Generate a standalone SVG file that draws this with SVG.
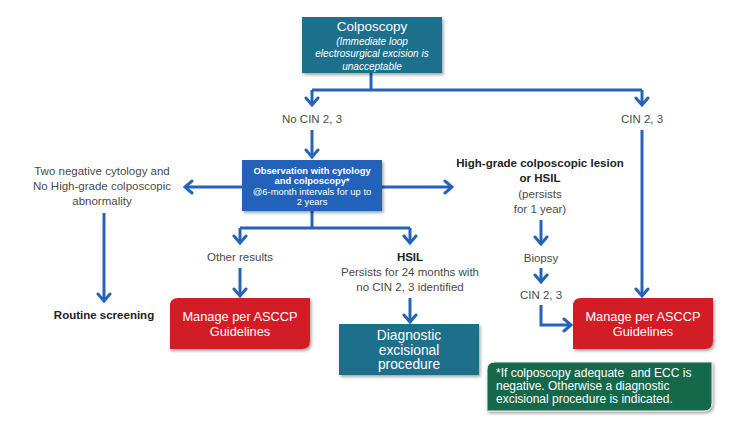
<svg xmlns="http://www.w3.org/2000/svg" width="743" height="425" viewBox="0 0 743 425">
<defs>
<marker id="arr" viewBox="-10 -8 12 16" markerWidth="12" markerHeight="16" refX="0" refY="0" orient="auto" markerUnits="userSpaceOnUse">
<path d="M-7,-6 L0,0 L-7,6" fill="none" stroke="#2563B8" stroke-width="3" stroke-linecap="round"/>
</marker>
<filter id="sh" x="-10%" y="-10%" width="125%" height="130%">
<feDropShadow dx="1.5" dy="2" stdDeviation="1.5" flood-color="#000" flood-opacity="0.35"/>
</filter>
</defs>
<style>
text{font-family:"Liberation Sans",Arial,sans-serif;}
.c{stroke:#2563B8;stroke-width:3;fill:none;}
.lbl{fill:#4a4a4a;font-size:11.5px;text-anchor:middle;}
.b{font-weight:bold;fill:#222;}
.w{fill:#fff;text-anchor:middle;}
</style>
<rect width="743" height="425" fill="#fff"/>
<g id="connectors">
<path class="c" d="M371,73 V90"/>
<path class="c" d="M312,90 H642"/>
<path class="c" d="M312,90 V105" marker-end="url(#arr)"/>
<path class="c" d="M642,90 V105" marker-end="url(#arr)"/>
<path class="c" d="M312,130 V157" marker-end="url(#arr)"/>
<path class="c" d="M242,187 H185" marker-end="url(#arr)"/>
<path class="c" d="M382,187 H452" marker-end="url(#arr)"/>
<path class="c" d="M104,213 V301" marker-end="url(#arr)"/>
<path class="c" d="M312,211 V228"/>
<path class="c" d="M240,228 H410"/>
<path class="c" d="M240,228 V243" marker-end="url(#arr)"/>
<path class="c" d="M410,228 V243" marker-end="url(#arr)"/>
<path class="c" d="M240,268 V296" marker-end="url(#arr)"/>
<path class="c" d="M410,298 V322" marker-end="url(#arr)"/>
<path class="c" d="M642,130 V296" marker-end="url(#arr)"/>
<path class="c" d="M541,220 V244" marker-end="url(#arr)"/>
<path class="c" d="M541,268 V282" marker-end="url(#arr)"/>
<path class="c" d="M541,305 V325 H571" marker-end="url(#arr)"/>
</g>
<g id="colposcopy">
<rect x="302" y="17" width="140" height="56" fill="#1D6F8B" filter="url(#sh)"/>
<text class="w" x="372" y="31" font-size="13.5">Colposcopy</text>
<text class="w" x="372" y="45" font-size="10" font-style="italic">(Immediate loop</text>
<text class="w" x="372" y="57" font-size="10" font-style="italic">electrosurgical excision is</text>
<text class="w" x="372" y="70" font-size="10" font-style="italic">unacceptable</text>
</g>
<g id="no-cin">
<text class="lbl" x="312" y="123">No CIN 2, 3</text>
</g>
<g id="cin-right">
<text class="lbl" x="642" y="123">CIN 2, 3</text>
</g>
<g id="observation">
<rect x="242" y="160" width="140" height="51" fill="#2462B8" filter="url(#sh)"/>
<text class="w" x="312" y="174" font-size="9.4" font-weight="bold">Observation with cytology</text>
<text class="w" x="312" y="184" font-size="9.4" font-weight="bold">and colposcopy*</text>
<text class="w" x="312" y="194.5" font-size="9.4">@6-month intervals for up to</text>
<text class="w" x="312" y="204.5" font-size="9.4">2 years</text>
</g>
<g id="two-negative">
<text class="lbl" x="102" y="175">Two negative cytology and</text>
<text class="lbl" x="102" y="190">No High-grade colposcopic</text>
<text class="lbl" x="102" y="205">abnormality</text>
</g>
<g id="high-grade">
<text class="lbl b" x="540" y="167" font-size="10.8">High-grade colposcopic lesion</text>
<text class="lbl b" x="540" y="182" font-size="10.8">or HSIL</text>
<text class="lbl" x="540" y="198">(persists</text>
<text class="lbl" x="540" y="213">for 1 year)</text>
</g>
<g id="routine">
<text class="lbl b" x="104" y="319" font-size="10.5">Routine screening</text>
</g>
<g id="other-results">
<text class="lbl" x="240" y="261">Other results</text>
</g>
<g id="hsil">
<text class="lbl b" x="410" y="261" font-size="10.5">HSIL</text>
<text class="lbl" x="410" y="276" font-size="11">Persists for 24 months with</text>
<text class="lbl" x="410" y="291" font-size="11">no CIN 2, 3 identified</text>
</g>
<g id="biopsy">
<text class="lbl" x="541" y="262">Biopsy</text>
</g>
<g id="cin-mid">
<text class="lbl" x="541" y="299">CIN 2, 3</text>
</g>
<g id="manage-left">
<path d="M178,298 H310 V341 Q310,349 302,349 H170 V306 Q170,298 178,298 Z" fill="#D21F27" filter="url(#sh)"/>
<text class="w" x="240" y="321" font-size="12.8">Manage per ASCCP</text>
<text class="w" x="240" y="336" font-size="12.8">Guidelines</text>
</g>
<g id="manage-right">
<path d="M581,298 H713 V341 Q713,349 705,349 H573 V306 Q573,298 581,298 Z" fill="#D21F27" filter="url(#sh)"/>
<text class="w" x="643" y="321" font-size="12.8">Manage per ASCCP</text>
<text class="w" x="643" y="336" font-size="12.8">Guidelines</text>
</g>
<g id="diagnostic">
<rect x="339" y="324" width="140" height="51" fill="#1D6F8B" filter="url(#sh)"/>
<text class="w" x="409" y="340" font-size="13.8">Diagnostic</text>
<text class="w" x="409" y="354.5" font-size="13.8">excisional</text>
<text class="w" x="409" y="369" font-size="13.8">procedure</text>
</g>
<g id="footnote">
<path d="M495,362 H712 V403 Q712,411 704,411 H487 V370 Q487,362 495,362 Z" fill="#17684B" stroke="#e8e8e8" stroke-width="1" filter="url(#sh)"/>
<text x="496" y="377" font-size="12" fill="#fff" xml:space="preserve">*If colposcopy adequate  and ECC is</text>
<text x="496" y="390" font-size="12" fill="#fff">negative. Otherwise a diagnostic</text>
<text x="496" y="403" font-size="12" fill="#fff">excisional procedure is indicated.</text>
</g>
</svg>
